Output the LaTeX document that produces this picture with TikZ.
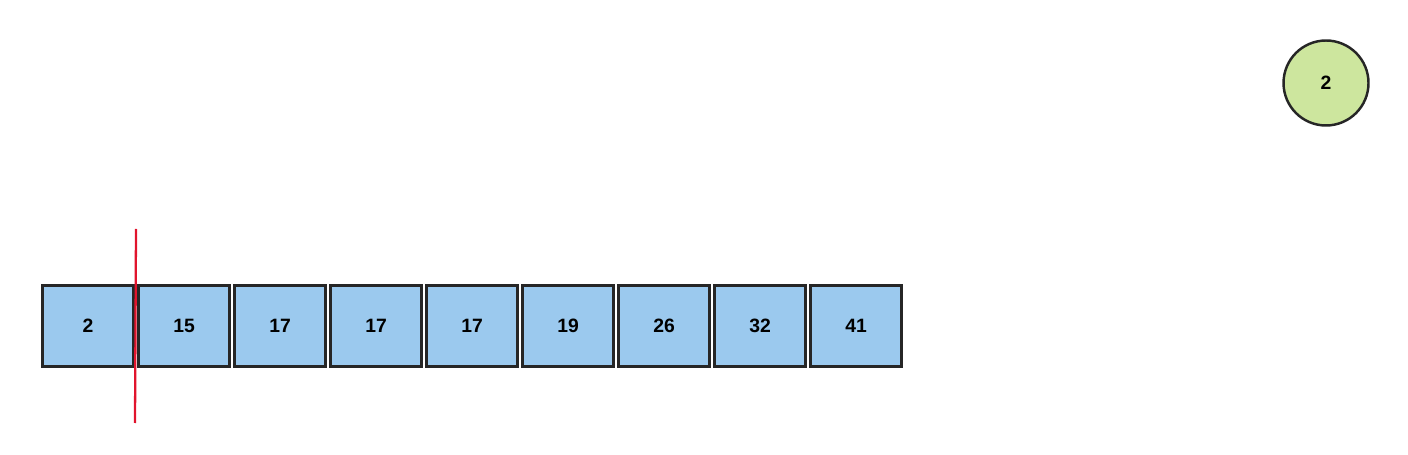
\documentclass[tikz,border=0pt]{standalone}
\usepackage{fontspec}
\setmainfont{Liberation Sans}
\definecolor{cellblue}{RGB}{155,201,238}
\definecolor{ballgreen}{RGB}{205,230,158}
\definecolor{cutred}{RGB}{225,20,45}
\begin{document}
\begin{tikzpicture}[x=0.02cm,y=-0.02cm,
        cell/.style={draw=black!85,line width=1.4pt,fill=cellblue,minimum width=1.82cm,minimum height=1.62cm,inner sep=0pt,font=\bfseries\fontsize{11}{13}\selectfont},
        ball/.style={circle,draw=black!85,line width=1.4pt,fill=ballgreen,minimum size=1.7cm,inner sep=0pt,font=\bfseries\fontsize{11}{13}\selectfont}]
        % Fix the canvas size
        \useasboundingbox (0,0) rectangle (1408,455);

        % Draw the row of cells
        \foreach \v [count=\i from 0] in {2,15,17,17,17,19,26,32,41} {
            \node[cell] (c\i) at (88+96*\i,326) {\v};
        }

        % Red cut line
        \coordinate (cuttop) at (136,229);
        \coordinate (cutbot) at (135,423);
        \draw[cutred,line width=1.3pt] (cuttop) -- (cutbot);

        % Current value
        \node[ball] (cur) at (1326,83) {2};
    \end{tikzpicture}
\end{document}
